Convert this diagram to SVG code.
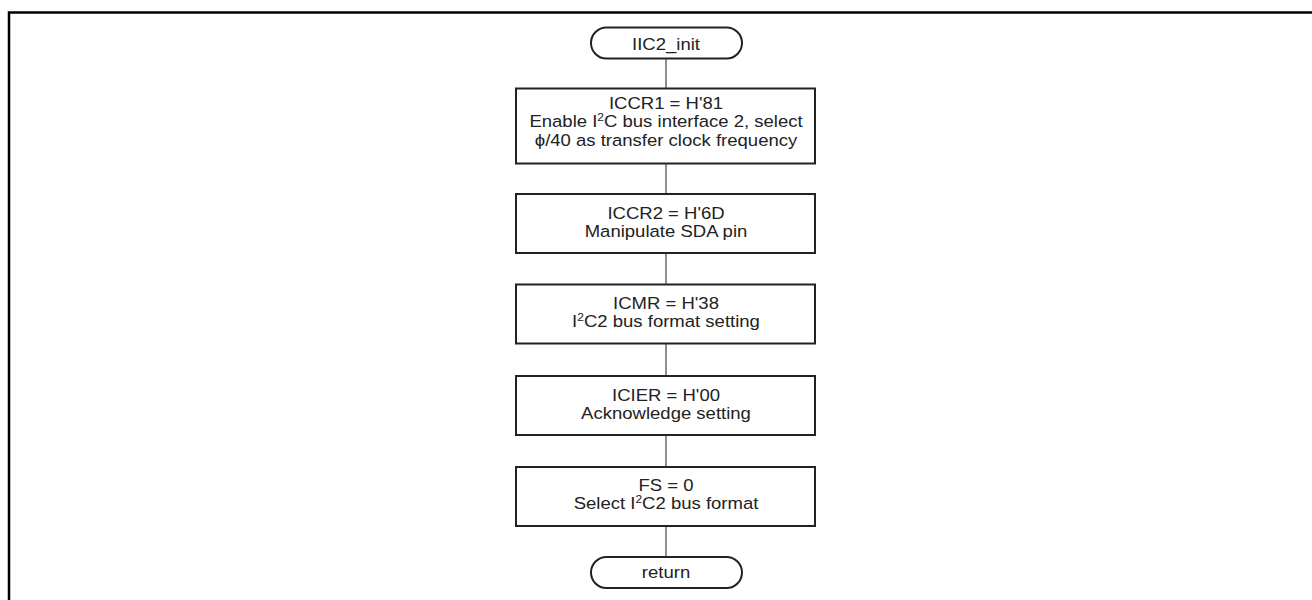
<svg xmlns="http://www.w3.org/2000/svg" width="1312" height="600" viewBox="0 0 1312 600">
  <style>
    .frame { fill: none; stroke: #000; stroke-width: 2.5; }
    .proc { fill: #fff; stroke: #222; stroke-width: 2; }
    .term { fill: #fff; stroke: #222; stroke-width: 2; }
    .link { stroke: #444; stroke-width: 1.2; fill: none; }
    text { font-family: "Liberation Sans", Arial, sans-serif; font-size: 17px; fill: #222; text-anchor: middle; }
    .sup { font-size: 11px; }
  </style>
  <rect width="1312" height="600" fill="#fff"/>
  <!-- page frame, open at right and bottom -->
  <path class="frame" d="M9 601 V12.5 H1313"/>

  <g id="connectors">
    <line class="link" x1="666" y1="59" x2="666" y2="88"/>
    <line class="link" x1="666" y1="164" x2="666" y2="194"/>
    <line class="link" x1="666" y1="253" x2="666" y2="284"/>
    <line class="link" x1="666" y1="344" x2="666" y2="376"/>
    <line class="link" x1="666" y1="435" x2="666" y2="467"/>
    <line class="link" x1="666" y1="526" x2="666" y2="557"/>
  </g>

  <!-- labels use a slightly widened face: text sits in a column at x=666 stretched 9% -->
  <g id="start">
    <rect class="term" x="591" y="27.5" width="151" height="31" rx="15.5"/>
    <g transform="translate(666 0) scale(1.09 1)">
      <text x="0" y="50">IIC2_init</text>
    </g>
  </g>

  <g id="iccr1">
    <rect class="proc" x="516" y="88.5" width="299" height="75"/>
    <g transform="translate(666 0) scale(1.09 1)">
      <text x="0" y="109">ICCR1 = H'81</text>
      <text x="0" y="127.5">Enable I<tspan class="sup" dy="-6">2</tspan><tspan dy="6">C bus interface 2, select</tspan></text>
      <text x="0" y="146">ϕ/40 as transfer clock frequency</text>
    </g>
  </g>

  <g id="iccr2">
    <rect class="proc" x="516" y="194" width="299" height="59"/>
    <g transform="translate(666 0) scale(1.09 1)">
      <text x="0" y="219">ICCR2 = H'6D</text>
      <text x="0" y="237.5">Manipulate SDA pin</text>
    </g>
  </g>

  <g id="icmr">
    <rect class="proc" x="516" y="284.5" width="299" height="59"/>
    <g transform="translate(666 0) scale(1.09 1)">
      <text x="0" y="309">ICMR = H'38</text>
      <text x="0" y="327.5">I<tspan class="sup" dy="-6">2</tspan><tspan dy="6">C2 bus format setting</tspan></text>
    </g>
  </g>

  <g id="icier">
    <rect class="proc" x="516" y="376" width="299" height="59"/>
    <g transform="translate(666 0) scale(1.09 1)">
      <text x="0" y="401">ICIER = H'00</text>
      <text x="0" y="419.5">Acknowledge setting</text>
    </g>
  </g>

  <g id="fs">
    <rect class="proc" x="516" y="467" width="299" height="59"/>
    <g transform="translate(666 0) scale(1.09 1)">
      <text x="0" y="491">FS = 0</text>
      <text x="0" y="509.5">Select I<tspan class="sup" dy="-6">2</tspan><tspan dy="6">C2 bus format</tspan></text>
    </g>
  </g>

  <g id="return">
    <rect class="term" x="591" y="557" width="151" height="31" rx="15.5"/>
    <g transform="translate(666 0) scale(1.09 1)">
      <text x="0" y="578">return</text>
    </g>
  </g>
</svg>
